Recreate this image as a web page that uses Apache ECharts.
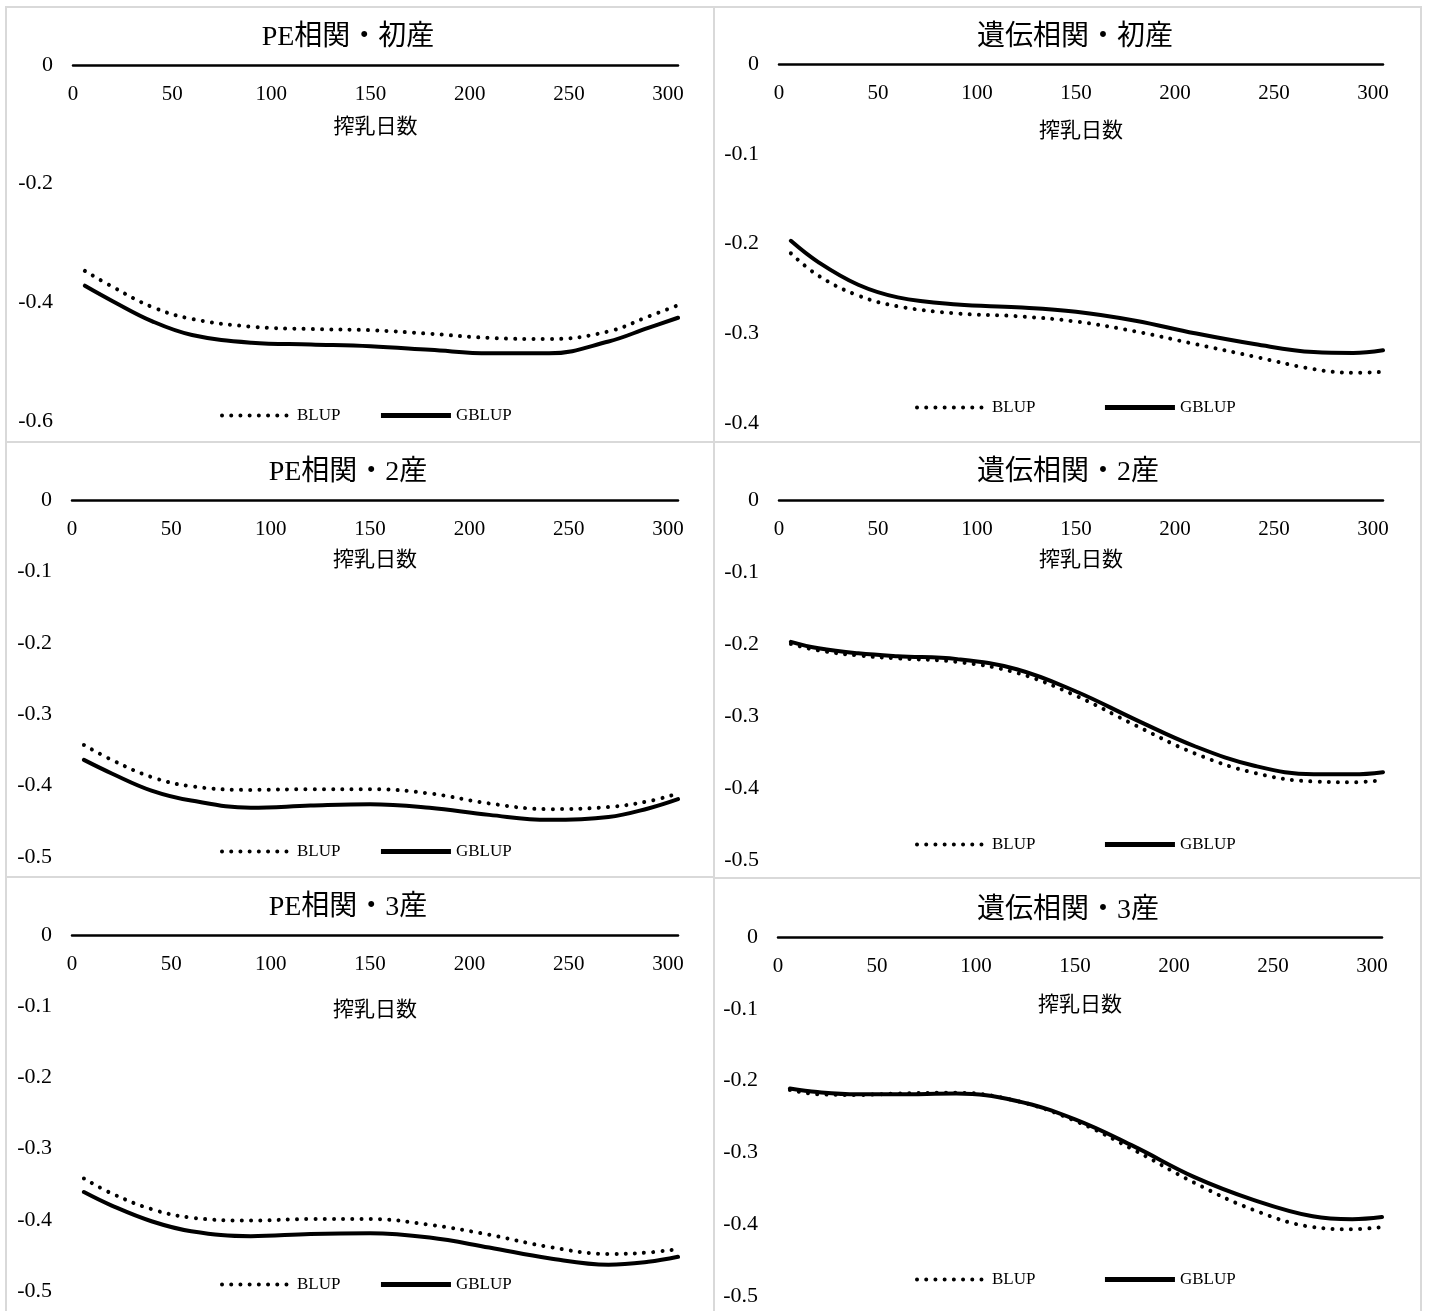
<!DOCTYPE html>
<html>
<head>
<meta charset="utf-8">
<script src="https://cdn.jsdelivr.net/npm/echarts@6/dist/echarts.min.js"></script>
<style>
html,body{margin:0;padding:0;background:#fff;}
#chart{width:1431px;height:1311px;}
</style>
</head>
<body>
<div id="chart"></div>
<script>
// ---- data ----
const DAYS = [6, 20, 40, 60, 90, 120, 150, 180, 210, 240, 270, 290, 305];
const TITLES = ['PE相関・初産', '遺伝相関・初産', 'PE相関・2産', '遺伝相関・2産', 'PE相関・3産', '遺伝相関・3産'];
const SERIES_NAMES = ['BLUP', 'GBLUP'];
const X_NAME = '搾乳日数';
const Y_MIN = [-0.6, -0.4, -0.5, -0.5, -0.5, -0.5];
const Y_INTERVAL = [0.2, 0.1, 0.1, 0.1, 0.1, 0.1];
const X_INTERVAL = 50;

const PE1_BLUP  = [-0.347, -0.374, -0.408, -0.428, -0.441, -0.445, -0.447, -0.453, -0.460, -0.462, -0.449, -0.424, -0.405];
const PE1_GBLUP = [-0.372, -0.398, -0.432, -0.455, -0.468, -0.471, -0.474, -0.480, -0.486, -0.486, -0.466, -0.443, -0.426];
const G1_BLUP   = [-0.211, -0.236, -0.258, -0.270, -0.278, -0.281, -0.287, -0.298, -0.312, -0.326, -0.340, -0.344, -0.343];
const G1_GBLUP  = [-0.197, -0.221, -0.246, -0.260, -0.268, -0.271, -0.276, -0.286, -0.300, -0.312, -0.321, -0.322, -0.319];
const PE2_BLUP  = [-0.343, -0.364, -0.388, -0.401, -0.406, -0.405, -0.405, -0.411, -0.425, -0.433, -0.430, -0.422, -0.411];
const PE2_GBLUP = [-0.364, -0.383, -0.407, -0.421, -0.431, -0.428, -0.426, -0.431, -0.441, -0.448, -0.444, -0.432, -0.419];
const G2_BLUP   = [-0.200, -0.209, -0.216, -0.220, -0.225, -0.240, -0.272, -0.313, -0.352, -0.379, -0.391, -0.392, -0.389];
const G2_GBLUP  = [-0.197, -0.206, -0.213, -0.217, -0.221, -0.235, -0.266, -0.305, -0.342, -0.369, -0.381, -0.381, -0.378];
const PE3_BLUP  = [-0.342, -0.363, -0.385, -0.397, -0.401, -0.399, -0.399, -0.407, -0.421, -0.438, -0.448, -0.446, -0.441];
const PE3_GBLUP = [-0.361, -0.380, -0.402, -0.416, -0.423, -0.420, -0.419, -0.425, -0.439, -0.454, -0.463, -0.459, -0.452];
const G3_BLUP   = [-0.213, -0.219, -0.220, -0.218, -0.217, -0.228, -0.256, -0.297, -0.342, -0.380, -0.404, -0.407, -0.404];
const G3_GBLUP  = [-0.211, -0.216, -0.219, -0.219, -0.218, -0.228, -0.254, -0.292, -0.334, -0.366, -0.389, -0.393, -0.390];

const PANEL_DATA = [
  [PE1_BLUP, PE1_GBLUP], [G1_BLUP, G1_GBLUP],
  [PE2_BLUP, PE2_GBLUP], [G2_BLUP, G2_GBLUP],
  [PE3_BLUP, PE3_GBLUP], [G3_BLUP, G3_GBLUP]
];

// ---- layout (positions / styles) ----
const FONT = "'Liberation Serif', 'Times New Roman', 'Noto Sans CJK JP', serif";
const LAYOUT = [
  {grid:{left:73, top:65, width:605, height:356}, title:[348,38], nameGap:-73, legend:{left:220, top:407, gap:38}, box:[6,7,708,435]},
  {grid:{left:779, top:64, width:604, height:359}, title:[1075,38], nameGap:-78, legend:{left:915, top:399, gap:67}, box:[714,7,707,435]},
  {grid:{left:72, top:500, width:606, height:357}, title:[348,473], nameGap:-71, legend:{left:220, top:843, gap:38}, box:[6,442,708,435]},
  {grid:{left:779, top:500, width:604, height:360}, title:[1068,473], nameGap:-71, legend:{left:915, top:836, gap:67}, box:[714,442,707,436]},
  {grid:{left:72, top:935, width:606, height:356}, title:[348,908], nameGap:-86, legend:{left:220, top:1276, gap:38}, box:[6,877,708,440]},
  {grid:{left:778, top:937, width:604, height:359}, title:[1068,911], nameGap:-79, legend:{left:915, top:1271, gap:67}, box:[714,878,707,440]}
];

const DOT = [0.01, 9.2];
const STYLE_BLUP = {color:'#000', width:4, type:DOT, cap:'round'};
const STYLE_GBLUP = {color:'#000', width:4, type:'solid', cap:'round'};

const grids = [], xAxes = [], yAxes = [], series = [], legends = [], graphics = [];

LAYOUT.forEach((L, i) => {
  graphics.push({
    type:'rect', shape:{x:L.box[0], y:L.box[1], width:L.box[2], height:L.box[3]},
    style:{fill:null, stroke:'#d9d9d9', lineWidth:2}, z:-10, silent:true
  });
  graphics.push({
    type:'text', x:L.title[0], y:L.title[1],
    style:{text:TITLES[i], font:'28px ' + FONT, fill:'#000', textAlign:'center', textVerticalAlign:'middle'},
    silent:true
  });
  grids.push(Object.assign({containLabel:false}, L.grid));
  xAxes.push({
    type:'value', gridIndex:i, min:0, max:305, interval:X_INTERVAL,
    position:'top',
    name:X_NAME, nameLocation:'middle', nameGap:L.nameGap,
    nameTextStyle:{fontFamily:FONT, fontSize:21, color:'#000'},
    axisLine:{show:true, onZero:false, lineStyle:{color:'#000', width:2.5}},
    axisTick:{show:false},
    splitLine:{show:false},
    axisLabel:{
      inside:true, margin:19, fontFamily:FONT, fontSize:21, color:'#000',
      formatter:v => (v % X_INTERVAL === 0 ? String(v) : '')
    }
  });
  yAxes.push({
    type:'value', gridIndex:i, min:Y_MIN[i], max:0, interval:Y_INTERVAL[i],
    axisLine:{show:false}, axisTick:{show:false}, splitLine:{show:false},
    axisLabel:{margin:20, fontFamily:FONT, fontSize:22, color:'#000',
      formatter:v => String(Math.round(v * 10) / 10)}
  });
  const d = PANEL_DATA[i];
  series.push({
    name:SERIES_NAMES[0], type:'line', xAxisIndex:i, yAxisIndex:i,
    data:DAYS.map((x, k) => [x, d[0][k]]),
    smooth:0.4, symbol:'none', showSymbol:false, lineStyle:STYLE_BLUP, itemStyle:{color:'#000'},
    silent:true, animation:false, z:2
  });
  series.push({
    name:SERIES_NAMES[1], type:'line', xAxisIndex:i, yAxisIndex:i,
    data:DAYS.map((x, k) => [x, d[1][k]]),
    smooth:0.4, symbol:'none', showSymbol:false, lineStyle:STYLE_GBLUP, itemStyle:{color:'#000'},
    silent:true, animation:false, z:3
  });
  legends.push({
    data:[
      {name:SERIES_NAMES[0], itemStyle:{opacity:0}, lineStyle:{color:'#000', width:4, type:DOT, cap:'round'}},
      {name:SERIES_NAMES[1], itemStyle:{opacity:0}, lineStyle:{color:'#000', width:5, type:'solid', cap:'butt'}}
    ],
    left:L.legend.left, top:L.legend.top,
    orient:'horizontal', itemWidth:70, itemHeight:14, itemGap:L.legend.gap, padding:0,
    selectedMode:false,
    textStyle:{fontFamily:FONT, fontSize:17, color:'#000'}
  });
});

const chart = echarts.init(document.getElementById('chart'), null, {renderer:'canvas'});
chart.setOption({
  backgroundColor:'#fff',
  animation:false,
  grid:grids, xAxis:xAxes, yAxis:yAxes, series:series, legend:legends,
  graphic:graphics
});
</script>
</body>
</html>
